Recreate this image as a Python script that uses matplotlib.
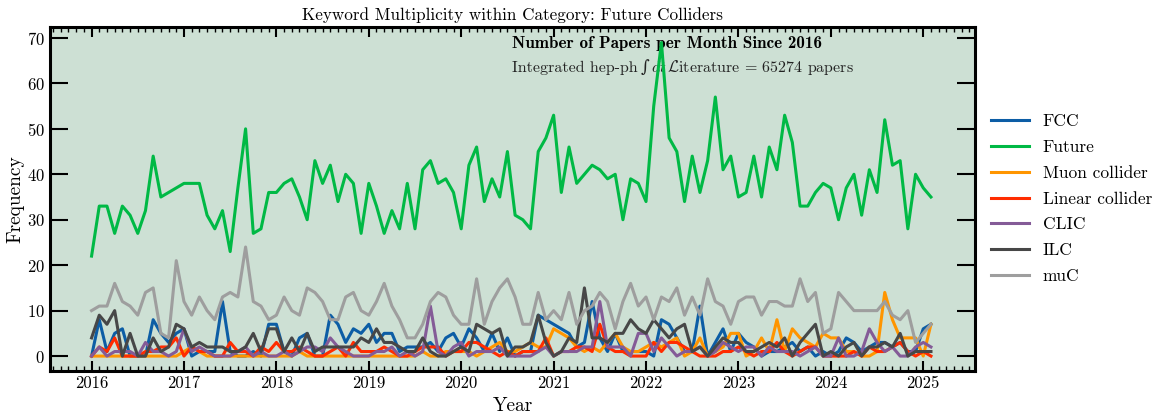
import numpy as np
import matplotlib
matplotlib.use("Agg")
import matplotlib.pyplot as plt
from matplotlib.ticker import MultipleLocator
from matplotlib.offsetbox import TextArea, HPacker, AnchoredOffsetbox

plt.rcParams['font.family'] = 'serif'
plt.rcParams['font.serif'] = ['cmr10']
plt.rcParams['mathtext.fontset'] = 'cm'
plt.rcParams['axes.formatter.use_mathtext'] = True
plt.rcParams['axes.unicode_minus'] = False

start_year = 2016
n_months = 110

fcc = [0,8,1,5,6,0,0,0,8,5,3,5,
       6,0,1,1,1,12,1,0,0,1,0,7,
       7,1,0,4,5,0,0,9,7,3,6,5,
       7,3,5,5,1,2,2,2,3,1,4,5,
       2,6,4,1,5,1,4,0,1,1,9,8,
       7,6,5,2,3,12,4,1,5,1,1,1,
       1,0,8,7,4,1,1,11,0,3,6,1,
       5,3,2,0,1,1,2,3,1,2,0,1,
       0,1,4,3,1,2,3,3,2,3,1,1,
       6,7]
future = [22,33,33,27,33,31,27,32,44,35,36,37,
          38,38,38,31,28,32,23,37,50,27,28,36,
          36,38,39,35,30,43,38,42,34,40,38,27,
          38,33,27,32,28,38,28,41,43,38,39,36,
          28,42,46,34,39,35,45,31,30,28,45,48,
          53,36,46,38,40,42,41,39,40,30,39,38,
          34,55,69,48,45,34,44,36,43,57,41,44,
          35,36,44,35,46,41,53,47,33,33,36,38,
          37,30,37,40,31,41,36,52,42,43,28,40,
          37,35]
muon = [0,0,0,0,0,0,0,0,0,0,0,0,
        1,2,1,0,0,0,0,0,0,0,0,0,
        0,0,0,1,0,0,0,0,0,0,0,0,
        0,0,0,0,0,0,0,1,0,0,1,1,
        1,1,0,1,2,3,1,1,2,3,2,2,
        6,5,4,2,1,2,1,3,5,2,1,1,
        2,3,2,3,4,0,1,4,0,1,2,5,
        5,0,1,4,1,8,1,6,4,3,2,5,
        4,4,1,1,0,0,1,14,8,4,4,4,
        0,7]
linear = [0,2,1,4,0,0,0,1,1,2,2,4,
          0,2,1,1,0,0,3,1,1,0,2,1,
          3,1,1,2,1,0,0,1,2,0,3,1,
          1,1,2,1,0,0,1,2,2,2,0,1,
          1,3,3,2,1,0,1,0,1,1,1,4,
          0,1,1,2,2,1,7,2,1,1,0,0,
          0,3,1,3,3,2,1,0,0,0,1,1,
          2,1,0,1,1,3,1,0,1,2,2,0,
          0,0,0,1,0,2,1,1,2,3,1,0,
          1,0]
clic = [0,2,0,1,1,1,0,3,1,1,0,1,
        6,1,2,1,0,0,0,1,2,0,1,0,
        0,1,0,1,2,2,1,4,2,1,0,0,
        0,1,1,2,0,1,0,1,11,1,0,2,
        3,0,1,1,1,2,0,0,0,0,1,2,
        0,1,1,1,2,2,12,2,2,2,0,5,
        5,1,4,2,0,1,1,2,0,1,3,2,
        1,2,2,0,2,1,1,1,0,1,2,0,
        0,4,0,0,1,6,3,1,2,0,0,2,
        3,2]
ilc = [4,9,7,10,0,5,0,0,4,1,2,7,
       6,2,3,2,2,2,1,1,2,5,1,6,
       6,1,4,1,5,1,2,2,2,2,2,4,
       3,6,3,3,2,1,1,4,1,0,0,1,
       2,1,7,6,5,6,0,2,2,3,9,3,
       0,1,4,3,15,4,4,3,5,5,8,6,
       5,8,6,4,6,7,1,2,0,2,4,3,
       3,1,1,2,3,2,4,0,3,5,7,0,
       1,0,2,3,0,2,2,3,2,5,0,1,
       1,1]
muc = [10,11,11,16,12,11,9,14,15,5,4,21,
       12,9,13,10,8,13,14,13,24,12,11,8,
       9,13,10,9,15,14,12,8,8,13,14,10,
       9,12,16,11,8,4,4,7,12,14,13,9,
       7,7,17,7,12,15,17,13,7,7,14,8,
       10,8,14,7,10,11,14,12,6,12,16,11,
       13,8,13,12,15,9,13,9,17,12,11,7,
       12,13,13,9,12,12,11,11,17,12,14,5,
       6,14,12,10,10,10,10,12,9,8,10,3,
       5,7]

labels = ["FCC", "Future", "Muon collider", "Linear collider", "CLIC", "ILC", "muC"]
colors = ['#0C5DA5', '#00B945', '#FF9500', '#FF2C00', '#845B97', '#474747', '#9e9e9e']
series = [fcc, future, muon, linear, clic, ilc, muc]
year_ticks = list(range(2016, 2026))

x = start_year + np.arange(n_months) / 12.0

fig = plt.figure(figsize=(11.57, 4.16), dpi=100)
ax = fig.add_axes([0.0432, 0.108, 0.7995, 0.827])
ax.set_facecolor('#cde0d4')

for s, lab, c in zip(series, labels, colors):
    ax.plot(x, s, color=c, lw=2.2, label=lab, zorder=2)

ax.set_xlim(2015.55, 2025.56)
ax.set_ylim(-3.3, 72.4)
ax.set_xticks(year_ticks)
ax.set_xticklabels([str(y) for y in year_ticks])
ax.xaxis.set_minor_locator(MultipleLocator(1/12))
ax.yaxis.set_major_locator(MultipleLocator(10))
ax.tick_params(axis='both', which='both', direction='in', top=True, right=True, labelsize=12)
ax.tick_params(axis='x', which='major', length=7, width=1.5)
ax.tick_params(axis='x', which='minor', length=3.5, width=1.0)
ax.tick_params(axis='y', which='major', length=13, width=1.5)
ax.tick_params(axis='y', which='minor', left=False, right=False)
for sp in ax.spines.values():
    sp.set_linewidth(2.2)

ax.set_xlabel("Year", fontsize=14, labelpad=4)
ax.set_ylabel("Frequency", fontsize=14, labelpad=2)
ax.set_title("Keyword Multiplicity within Category: Future Colliders", fontsize=12.3, pad=5)

ax.text(0.5, 0.975, "Number of Papers per Month Since 2016", transform=ax.transAxes,
        ha='left', va='top', fontsize=12.3, family='cmb10', zorder=1)

fs2 = 11.5
parts = [
    TextArea("Integrated hep-ph", textprops=dict(fontsize=fs2, family='cmr10', color='#222222')),
    TextArea("\u222b", textprops=dict(fontsize=fs2 * 1.05, family='DejaVu Serif', color='#222222')),
    TextArea("$dt\\,\\mathcal{L}$iterature = 65274 papers",
             textprops=dict(fontsize=fs2, family='cmr10', color='#222222')),
]
line2 = HPacker(children=parts, align='baseline', pad=0, sep=1.5)
box = AnchoredOffsetbox(loc='upper left', child=line2, bbox_to_anchor=(0.5, 0.91),
                        bbox_transform=ax.transAxes, frameon=False, pad=0, borderpad=0)
box.set_zorder(1)
ax.add_artist(box)

ax.legend(loc='center left', bbox_to_anchor=(1.0, 0.5), frameon=False, fontsize=12.5,
          handlelength=2.2, labelspacing=0.6)

fig.savefig("out.png", dpi=100)
